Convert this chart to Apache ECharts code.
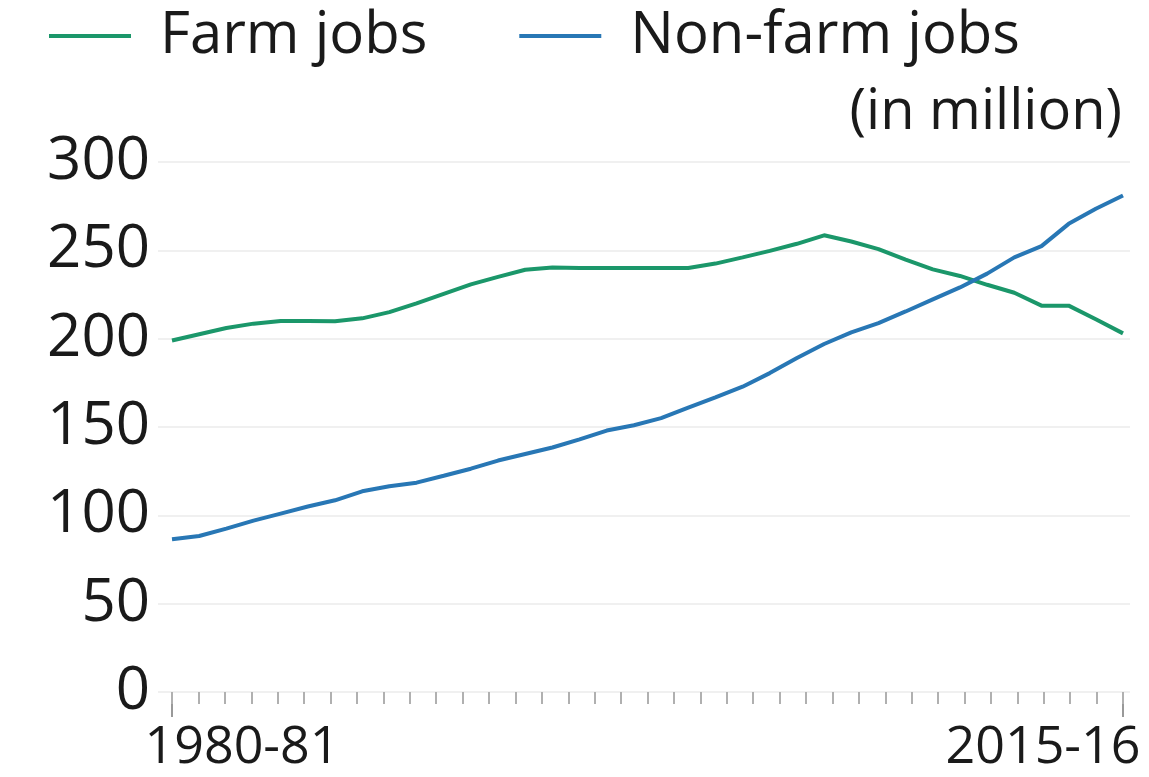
<!DOCTYPE html>
<html>
<head>
<meta charset="utf-8">
<script src="https://cdn.jsdelivr.net/npm/echarts@6/dist/echarts.min.js"></script>
<style>
html,body{margin:0;padding:0;background:#fff;}
#c{width:1149px;height:777px;}
</style>
</head>
<body>
<div id="c"></div>
<script>
const years = ["1980-81","1981-82","1982-83","1983-84","1984-85","1985-86","1986-87","1987-88","1988-89","1989-90",
"1990-91","1991-92","1992-93","1993-94","1994-95","1995-96","1996-97","1997-98","1998-99","1999-00",
"2000-01","2001-02","2002-03","2003-04","2004-05","2005-06","2006-07","2007-08","2008-09","2009-10",
"2010-11","2011-12","2012-13","2013-14","2014-15","2015-16"];
const farmJobs = [199,202.5,206,208.5,210,210,209.8,211.5,215,220,225.4,230.7,235,239,240.3,240,240,240,240,240,
242.5,246,249.7,253.7,258.5,255,250.7,244.7,239.2,235.5,230.5,226,218.7,218.7,211,203];
const nonFarmJobs = [86.5,88.3,92.5,97,101,105,108.5,113.6,116.5,118.5,122.4,126.4,131,134.7,138.4,143,148,151,155,161,
166.8,172.8,180.5,189,197,203.6,208.8,215.4,222.2,229,236.8,246,252.4,265,273.5,281];
const tickSlots = ["","","","","","","","","","","","","","","","","","","","","","","","","","","","","","","","","","","","",""];
const yTicks = {min:0, max:300, interval:50};
const unitLabel = "(in million)";

const chart = echarts.init(document.getElementById('c'));
const FONT = 'Open Sans';
const last = years.length - 1;
chart.setOption({
  animation:false,
  backgroundColor:'#fff',
  title:{text:unitLabel, right:22, top:80, textStyle:{fontFamily:FONT, fontSize:56, fontWeight:'normal', color:'#1a1a1a'}},
  legend:{left:44, top:2, itemWidth:82, itemHeight:4, itemGap:92, icon:'rect',
    textStyle:{fontFamily:FONT, fontSize:58, color:'#1a1a1a', padding:[0,0,0,24]},
    data:['Farm jobs','Non-farm jobs']},
  grid:[
    {left:172, right:26, top:162, bottom:85},
    {left:158, right:19, top:162, bottom:85}
  ],
  xAxis:[
    {type:'category', gridIndex:0, data:years, boundaryGap:false,
      axisLine:{show:false},
      axisTick:{show:true, length:25, interval:(i)=>i===0||i===last, lineStyle:{color:'#999', width:2}},
      axisLabel:{interval:(i)=>i===0||i===last, margin:30, color:'#1a1a1a',
        formatter:(v,i)=> i===0 ? '{first|'+v+'}' : '{lastl|'+v+'}',
        rich:{
          first:{fontFamily:FONT, fontSize:52, color:'#1a1a1a', padding:[0,0,0,140]},
          lastl:{fontFamily:FONT, fontSize:52, color:'#1a1a1a', padding:[0,160,0,0]}
        }},
      splitLine:{show:false}},
    {type:'category', gridIndex:0, data:tickSlots, boundaryGap:false, position:'bottom',
      axisLine:{show:false}, axisLabel:{show:false},
      axisTick:{show:true, length:12, interval:0, lineStyle:{color:'#b0b0b0', width:2}}},
    {type:'value', gridIndex:1, show:false}
  ],
  yAxis:[
    {type:'value', gridIndex:0, min:yTicks.min, max:yTicks.max, interval:yTicks.interval,
      axisLine:{show:false}, axisTick:{show:false}, splitLine:{show:false},
      axisLabel:{fontFamily:FONT, fontSize:60, color:'#1a1a1a', margin:22}},
    {type:'value', gridIndex:1, min:yTicks.min, max:yTicks.max, interval:yTicks.interval,
      axisLine:{show:false}, axisTick:{show:false}, axisLabel:{show:false},
      splitLine:{show:true, lineStyle:{color:'#ebebeb', width:1.5}}}
  ],
  series:[
    {name:'Farm jobs', type:'line', xAxisIndex:0, yAxisIndex:0, data:farmJobs, showSymbol:false, symbol:'none',
      lineStyle:{color:'#1b976a', width:4}, itemStyle:{color:'#1b976a'}, z:3},
    {name:'Non-farm jobs', type:'line', xAxisIndex:0, yAxisIndex:0, data:nonFarmJobs, showSymbol:false, symbol:'none',
      lineStyle:{color:'#2877b5', width:4}, itemStyle:{color:'#2877b5'}, z:4}
  ]
});
</script>
</body>
</html>
